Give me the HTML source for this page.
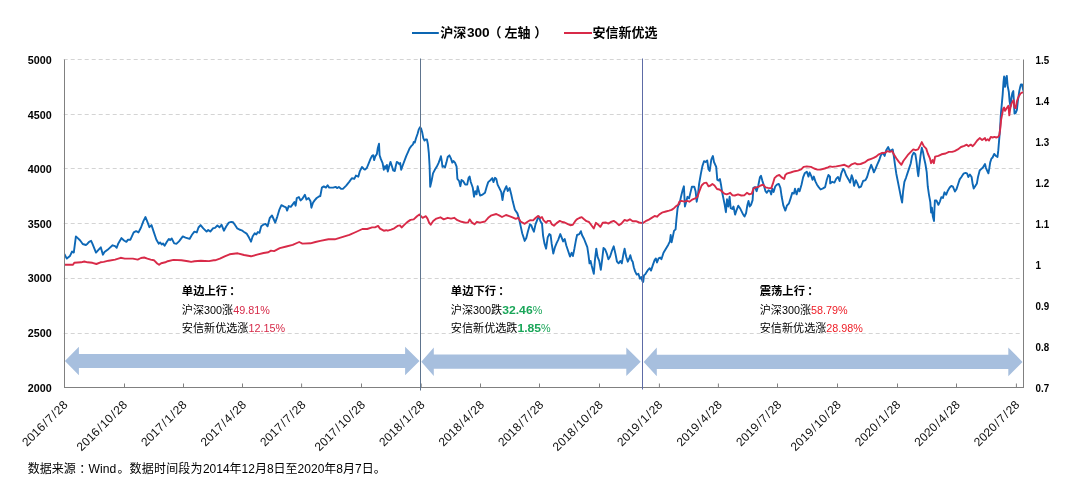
<!DOCTYPE html>
<html lang="zh-CN"><head><meta charset="utf-8"><title>沪深300 与 安信新优选</title>
<style>
html,body{margin:0;padding:0;background:#fff;}
body{width:1076px;height:494px;overflow:hidden;font-family:"Liberation Sans","Noto Sans CJK SC",sans-serif;}
svg{display:block}
.ax{font-family:"Liberation Sans",sans-serif;font-weight:bold;font-size:11.2px;fill:#000}
.xl{font-family:"Liberation Sans",sans-serif;font-size:12px;fill:#111}
.lg{font-family:"Liberation Sans","Noto Sans CJK SC",sans-serif;font-weight:bold;font-size:13px;fill:#000}
.an{font-family:"Liberation Sans","Noto Sans CJK SC",sans-serif;font-size:11.1px;fill:#000}
.n{font-size:10.8px}
.ft{font-family:"Liberation Sans","Noto Sans CJK SC",sans-serif;font-size:12px;fill:#000}
.b{font-weight:bold}
</style></head><body>
<svg width="1076" height="494" viewBox="0 0 1076 494">
<rect width="1076" height="494" fill="#fff"/>
<g stroke="#d4d4d4" stroke-width="1" stroke-dasharray="4 3" fill="none">
<line x1="63.7" y1="59.50" x2="1020.2" y2="59.50"/>
<line x1="63.7" y1="114.50" x2="1020.2" y2="114.50"/>
<line x1="63.7" y1="168.50" x2="1020.2" y2="168.50"/>
<line x1="63.7" y1="223.50" x2="1020.2" y2="223.50"/>
<line x1="63.7" y1="278.50" x2="1020.2" y2="278.50"/>
<line x1="63.7" y1="333.50" x2="1020.2" y2="333.50"/>
</g>
<polygon points="64.9,361.0 78.9,346.7 78.9,354.0 405.1,354.0 405.1,346.7 419.5,361.0 405.1,375.3 405.1,368.0 78.9,368.0 78.9,375.3" fill="#a7bfde"/>
<polygon points="421.3,361.7 433.8,347.4 433.8,354.6 626.3,354.6 626.3,347.4 640.7,361.7 626.3,376.0 626.3,368.8 433.8,368.8 433.8,376.0" fill="#a7bfde"/>
<polygon points="643.7,361.9 656.8,347.5 656.8,354.7 1008.3,354.7 1008.3,347.5 1022.5,361.9 1008.3,376.3 1008.3,369.1 656.8,369.1 656.8,376.3" fill="#a7bfde"/>
<clipPath id="pc"><rect x="64" y="50" width="959.5" height="340"/></clipPath>
<g clip-path="url(#pc)">
<polyline points="64.5,254.3 66.8,258.6 70.0,255.9 72.1,251.5 73.8,252.6 75.9,236.4 77.8,238.1 80.2,240.5 82.7,244.0 85.9,245.0 87.5,243.7 89.1,241.8 91.1,240.8 92.4,243.7 96.0,252.6 98.9,249.4 100.8,247.3 102.9,254.7 104.5,252.1 108.6,248.9 112.6,245.3 115.1,246.2 116.7,247.8 118.3,243.4 121.5,238.1 124.0,240.5 126.4,241.8 128.0,239.7 130.4,239.7 133.7,232.4 136.1,231.1 138.5,232.4 141.0,227.5 143.4,221.1 145.5,217.0 147.4,221.9 149.4,227.2 151.5,225.1 153.9,232.4 156.4,239.7 158.8,243.7 160.1,242.4 161.7,244.5 163.0,243.4 164.6,245.7 166.9,241.8 168.8,238.9 170.1,240.2 171.7,238.5 174.2,243.4 176.6,243.7 179.0,241.3 182.8,236.4 185.5,237.6 189.6,238.9 192.0,234.8 194.4,231.6 196.8,232.4 198.5,227.5 200.6,225.1 203.3,228.3 206.6,231.6 208.2,230.0 210.3,231.6 213.0,228.3 215.0,227.9 217.4,225.5 219.5,227.4 221.5,224.7 223.9,230.7 226.3,226.3 228.8,222.6 231.2,221.9 233.1,222.2 235.2,225.2 237.3,228.4 239.3,229.5 241.7,230.3 244.1,232.0 246.6,233.6 249.0,237.6 251.0,241.7 252.6,236.5 254.7,233.3 256.3,234.4 257.9,232.0 259.5,232.8 261.2,226.3 263.3,224.7 265.5,223.9 267.6,226.3 269.7,218.2 272.0,215.4 273.6,219.0 275.2,222.6 277.3,216.6 279.5,209.3 281.4,205.2 283.8,206.4 285.9,207.3 287.1,210.6 288.7,206.1 290.8,206.9 292.7,204.4 294.4,202.0 295.6,205.7 296.8,198.0 298.9,197.1 300.5,200.4 302.4,198.8 304.9,194.7 306.5,199.6 308.6,198.0 310.5,201.2 311.4,207.7 313.0,202.8 314.6,200.4 316.7,198.0 318.6,196.7 320.3,196.0 321.9,187.6 323.8,186.4 325.9,187.6 327.6,185.3 329.2,187.6 333.2,187.6 335.6,186.9 337.3,188.1 338.9,186.9 341.3,188.9 342.9,188.9 346.2,185.6 349.4,181.6 351.8,178.3 354.3,178.8 355.9,175.6 358.3,176.7 359.9,171.1 362.0,167.0 364.0,169.1 365.0,169.6 366.8,168.0 368.6,163.7 370.5,158.9 372.0,155.8 373.3,155.2 374.1,160.1 375.3,156.4 376.9,154.0 377.8,147.9 379.0,143.7 379.6,155.2 380.8,158.9 382.6,163.1 383.8,169.8 385.0,166.2 385.9,168.6 386.9,164.9 387.8,171.6 389.0,166.8 390.5,161.9 391.7,165.5 393.2,170.4 394.8,171.0 395.6,166.8 396.8,161.9 398.0,162.5 399.3,164.3 400.2,163.1 401.2,169.8 402.7,165.5 404.5,160.7 406.3,155.8 408.1,151.8 409.7,148.2 411.2,146.1 413.0,144.3 413.8,141.9 414.8,142.5 416.0,138.2 417.5,134.0 418.7,129.7 419.9,127.3 421.1,128.5 422.3,132.8 423.3,138.2 424.5,140.6 425.7,139.4 426.9,139.4 427.9,144.3 428.8,152.8 429.6,166.2 430.2,186.8 431.6,180.7 433.0,173.4 434.8,169.8 436.7,166.8 438.5,163.1 440.1,158.9 440.9,156.2 441.8,161.3 442.5,166.8 443.7,166.2 445.0,167.4 446.4,162.6 447.7,157.0 449.4,155.3 451.0,158.6 452.3,162.6 453.4,161.0 455.0,162.6 456.6,166.7 457.4,178.9 459.1,181.0 460.4,186.2 461.5,180.0 463.1,181.0 465.2,184.6 467.2,184.6 468.5,178.1 469.6,176.5 470.7,181.7 472.8,187.8 474.0,196.7 475.3,191.1 476.6,194.3 477.7,186.2 478.8,191.1 480.1,195.6 482.6,194.6 485.0,192.7 486.6,187.0 488.2,182.1 490.6,180.0 492.3,178.1 493.4,182.1 495.0,177.8 496.3,178.9 497.6,184.6 499.6,188.6 501.2,191.9 502.5,200.0 503.6,192.7 505.2,188.6 506.4,186.2 507.7,191.1 509.6,188.1 511.2,194.3 512.8,201.6 514.9,209.7 517.4,213.4 519.0,218.6 520.6,225.9 522.2,233.2 524.7,240.9 526.3,238.0 527.9,231.5 530.0,224.3 531.2,225.2 532.8,229.3 533.9,231.7 535.5,224.4 537.6,218.8 538.8,216.3 540.4,221.2 542.0,223.6 543.1,235.8 544.4,243.1 546.1,248.7 547.7,237.4 549.3,234.1 550.6,235.0 551.7,243.9 553.3,253.6 555.0,247.1 556.6,243.1 558.2,239.8 560.3,234.1 561.9,238.2 563.1,241.4 564.7,239.0 566.3,245.5 567.9,250.3 570.0,256.5 571.6,252.8 572.9,256.0 574.4,248.7 576.0,239.8 577.1,235.0 579.3,234.1 580.9,231.2 582.0,235.0 584.1,239.0 585.7,243.1 587.3,247.1 588.5,255.2 589.5,263.3 590.6,260.9 591.7,265.7 593.8,273.8 595.0,259.3 596.3,248.7 597.6,256.8 599.2,260.9 600.8,269.8 602.1,260.1 603.5,247.9 605.2,249.5 606.8,253.6 608.4,259.3 610.0,256.8 612.1,250.3 613.7,246.3 615.4,253.6 617.0,261.7 618.6,263.3 620.5,260.9 621.8,263.3 623.5,253.6 624.6,248.7 626.2,256.8 627.8,261.7 629.5,257.6 630.3,255.2 631.6,260.1 632.7,261.7 633.8,267.3 635.1,271.4 636.7,274.6 638.4,273.8 640.0,278.7 641.3,277.1 642.4,281.1 643.2,281.9 644.0,275.4 645.6,273.8 648.1,269.8 649.7,268.2 651.0,270.6 652.9,264.9 654.6,260.1 655.9,258.4 657.0,262.5 658.6,258.4 660.2,257.6 661.4,259.3 663.5,252.8 665.9,248.7 668.3,244.7 669.9,241.4 670.7,235.0 671.6,242.2 672.7,237.4 674.0,230.9 675.6,229.3 676.4,219.6 677.6,208.2 678.5,205.0 679.4,204.1 681.0,196.8 682.6,190.3 683.9,186.3 684.9,206.5 686.2,201.7 687.5,196.8 689.1,198.4 690.2,193.6 691.9,186.8 694.3,186.8 695.6,191.2 696.7,201.7 697.9,195.2 699.1,183.9 700.8,174.1 702.4,166.1 704.0,161.2 705.6,162.0 707.2,160.4 708.5,169.3 709.7,170.9 711.3,159.6 712.9,156.0 714.0,162.0 716.2,166.9 717.3,179.8 718.6,180.6 719.9,179.0 721.0,184.7 722.1,192.0 723.4,198.4 724.7,204.9 725.9,212.2 727.0,199.3 728.3,206.5 729.6,196.8 730.7,208.2 732.3,209.0 733.5,206.5 735.1,214.6 736.7,209.8 738.3,205.7 740.0,208.2 741.6,211.4 743.2,214.6 744.5,216.6 746.1,213.0 747.4,204.9 748.5,200.9 749.7,206.5 751.0,204.9 752.6,200.1 753.4,187.9 755.0,187.1 756.6,191.2 758.3,185.5 759.9,177.4 761.0,175.8 762.3,180.6 763.9,185.5 765.5,191.2 766.8,192.8 768.5,190.3 770.1,191.2 771.2,194.4 772.3,188.7 773.6,192.0 775.3,186.3 776.9,184.7 778.8,183.9 780.4,187.9 781.7,196.8 783.4,205.7 785.3,210.6 786.9,205.7 789.0,203.3 790.6,198.4 792.3,192.8 793.9,193.6 795.0,188.7 796.6,194.4 798.3,188.7 799.6,191.2 801.5,184.7 803.1,177.4 804.7,173.3 806.8,171.7 808.5,176.6 809.6,172.5 811.2,175.8 812.5,179.8 813.8,176.6 815.4,181.4 817.0,184.7 818.7,187.1 820.6,189.5 823.0,188.4 825.1,187.1 826.8,179.8 828.4,175.0 830.0,176.6 830.2,183.4 832.3,181.8 834.4,182.6 836.3,178.6 838.0,177.0 839.6,181.0 841.2,173.7 843.1,168.9 844.4,170.5 846.1,175.3 848.5,179.4 850.1,182.6 851.7,175.3 852.9,178.6 854.1,185.9 855.8,180.2 857.4,183.4 859.0,187.5 861.0,186.7 863.1,181.0 865.5,180.2 867.1,177.0 869.0,170.5 871.2,164.8 872.8,168.9 873.9,172.4 875.5,168.9 877.1,164.8 879.3,160.0 880.9,155.1 883.0,152.7 884.6,155.9 886.2,150.2 888.2,147.0 889.8,151.1 891.4,150.2 892.7,149.4 893.8,155.9 895.0,164.8 896.3,173.7 897.9,181.8 899.5,189.9 901.1,198.0 902.1,202.6 903.1,191.5 904.4,181.8 906.0,177.8 907.6,172.9 909.2,168.1 910.8,163.2 912.1,155.9 913.7,152.7 915.4,154.3 916.5,161.6 917.6,171.3 918.3,176.2 919.3,166.4 920.5,155.9 921.8,147.8 923.0,151.9 924.1,158.3 925.4,164.0 926.7,172.1 927.8,186.7 929.0,194.8 930.3,202.1 931.1,212.5 931.9,207.7 932.8,216.2 934.0,221.0 934.3,212.5 934.9,200.4 936.4,200.4 938.4,204.8 940.0,201.3 941.3,197.2 942.9,198.0 944.5,192.3 946.1,194.8 947.8,190.7 949.7,187.5 951.3,185.9 952.9,186.7 954.9,191.5 956.5,189.1 958.1,184.3 959.7,179.4 961.4,177.0 963.5,173.7 965.6,172.9 967.2,173.7 968.3,177.0 969.9,174.5 971.6,177.0 972.7,184.3 973.7,188.6 975.3,185.9 976.9,183.4 978.0,177.0 979.7,170.5 981.3,168.9 982.9,167.6 985.0,164.0 985.9,167.8 987.8,172.1 988.4,173.3 989.3,168.4 990.2,162.4 991.4,158.7 992.6,157.5 994.2,153.9 995.6,155.7 997.5,156.9 998.3,150.2 999.0,141.7 999.9,130.8 1000.5,121.1 1000.7,116.0 1001.7,105.1 1002.7,94.1 1003.5,82.0 1004.1,76.5 1005.1,86.9 1006.0,78.4 1006.8,75.9 1007.6,85.6 1008.8,91.7 1009.6,101.4 1010.5,106.3 1011.4,97.8 1012.4,92.9 1013.3,91.1 1013.9,101.4 1014.5,113.6 1015.7,113.0 1016.9,109.9 1017.8,101.4 1018.5,96.6 1019.3,91.1 1020.2,86.9 1020.9,84.4 1022.1,84.4 1023.0,89.3 1023.5,91.1" fill="none" stroke="#0e68b6" stroke-width="1.9" stroke-linejoin="round" stroke-linecap="round"/>
<polyline points="64.5,264.8 73.0,264.8 74.3,262.8 81.1,262.3 84.3,261.5 87.5,262.3 92.4,262.8 96.4,264.0 100.5,262.3 103.7,261.9 108.6,260.7 115.1,259.6 120.7,257.8 124.8,258.6 132.9,258.6 137.7,259.6 141.0,258.0 144.2,257.5 147.4,258.6 150.7,259.6 153.9,260.2 157.2,263.5 159.1,264.8 161.2,263.2 165.3,262.3 167.7,261.2 173.4,259.9 181.5,260.2 187.9,261.2 191.2,261.9 194.4,261.2 200.9,260.7 209.0,261.1 213.8,260.2 215.0,260.3 219.9,258.7 224.7,256.3 229.6,254.3 237.7,253.3 244.1,255.0 251.0,256.3 257.1,254.6 263.6,253.0 268.4,252.2 270.9,250.6 274.1,251.1 279.8,248.2 286.3,246.5 292.7,244.9 299.2,242.0 302.4,243.6 310.5,243.3 315.4,242.0 320.3,240.9 328.4,239.3 334.8,239.3 342.9,236.8 349.4,234.9 355.9,232.0 362.4,229.0 367.2,229.0 372.1,227.4 375.0,227.4 378.1,225.9 380.0,228.6 383.8,230.7 386.2,230.2 387.8,230.7 391.1,229.6 394.3,228.3 397.5,225.9 400.0,225.4 401.6,227.5 404.0,225.1 407.2,222.1 410.5,219.9 413.7,219.4 417.0,216.2 419.4,214.5 421.0,216.2 422.6,217.8 425.9,216.2 427.5,218.6 429.1,222.6 430.7,224.7 433.2,221.0 436.4,218.6 440.4,217.3 443.7,219.4 447.7,217.8 451.0,218.6 454.2,217.8 457.4,220.2 461.5,221.8 465.5,222.6 468.0,222.6 469.6,219.4 472.0,222.6 474.5,224.3 476.9,221.8 480.1,222.6 485.0,221.5 488.2,217.8 491.5,215.3 496.3,214.0 499.6,215.7 502.0,217.0 506.0,215.0 509.3,216.2 512.5,217.3 515.7,218.9 518.2,217.8 520.6,221.5 524.7,223.8 527.9,221.5 530.0,220.2 533.1,220.4 535.5,218.0 538.0,216.0 540.4,218.0 542.0,217.1 543.6,220.4 546.1,222.8 547.7,220.9 550.1,220.9 551.7,224.1 554.1,225.7 556.6,223.1 559.8,220.9 562.2,222.0 564.7,222.5 567.9,224.1 570.3,225.2 572.8,224.8 575.2,221.2 576.8,219.3 579.3,218.0 581.7,217.1 584.1,219.3 586.5,221.2 589.0,222.0 591.4,225.2 593.8,228.5 595.9,222.8 597.9,224.4 600.3,226.9 602.7,222.8 606.0,222.5 608.4,223.6 610.8,222.0 613.7,220.9 616.5,222.8 618.9,225.2 621.4,223.6 624.6,219.9 627.0,220.9 629.9,219.3 632.7,221.2 635.9,221.2 639.2,222.5 642.7,223.1 645.6,221.2 648.9,219.6 652.1,217.6 654.6,216.0 657.0,216.7 659.4,214.4 662.7,212.3 665.9,211.5 669.1,210.7 671.6,209.9 674.0,208.2 676.4,205.8 678.0,205.0 679.4,201.7 681.3,200.9 684.6,201.7 687.0,200.9 689.4,201.7 692.7,199.3 695.9,198.1 697.5,196.8 699.1,192.0 701.6,185.5 704.0,183.1 706.4,182.6 708.5,186.3 710.5,185.5 712.4,183.9 714.5,185.5 717.0,189.0 719.4,189.5 721.8,191.2 724.3,193.6 726.7,194.4 728.6,193.6 730.2,192.8 732.3,195.2 734.8,195.5 738.0,194.4 741.3,195.5 744.5,195.2 746.9,192.8 749.4,194.4 751.8,193.6 753.4,188.7 755.8,187.4 758.3,186.8 760.7,185.5 763.1,184.7 765.5,187.4 768.0,187.9 771.2,188.4 772.8,183.9 774.5,178.2 776.9,175.8 779.3,175.0 781.7,177.4 784.2,179.0 785.3,175.0 787.4,173.3 790.6,172.5 794.7,171.2 797.9,170.6 801.2,169.3 803.6,166.9 806.8,166.4 810.9,166.9 814.1,168.5 817.4,169.6 820.6,169.6 824.7,168.5 827.9,167.3 830.0,166.4 832.3,166.9 836.3,166.4 840.4,165.6 844.4,164.8 848.5,166.9 851.7,164.3 855.0,163.2 857.4,164.3 860.6,164.0 864.7,162.4 867.9,160.0 871.2,158.8 873.6,157.9 876.0,156.7 878.4,154.6 881.7,153.0 884.9,152.7 887.3,151.1 889.8,151.9 892.2,151.1 893.8,154.3 896.3,158.3 898.7,161.6 901.4,164.8 903.5,160.8 906.0,157.5 908.4,154.3 910.8,151.9 913.3,149.4 915.7,150.2 918.1,149.4 920.2,145.4 921.8,142.1 923.8,146.2 926.2,148.6 927.8,153.5 929.9,158.3 931.1,163.2 932.7,160.0 933.8,163.2 935.1,156.7 938.4,155.9 941.6,154.3 945.6,153.5 948.9,151.9 952.1,151.9 954.6,151.1 957.8,149.4 961.0,147.0 964.3,145.9 966.7,144.6 968.3,146.2 970.7,144.6 972.7,146.2 974.8,143.8 977.2,140.5 979.7,138.1 982.1,140.0 985.0,138.1 985.9,140.5 987.8,139.3 989.0,140.5 990.8,136.9 992.6,137.5 994.4,136.9 996.3,137.5 998.1,136.9 999.3,135.0 1000.3,128.4 1000.9,122.3 1001.1,119.7 1002.3,113.6 1003.2,108.7 1004.1,107.5 1005.1,110.9 1006.3,108.7 1007.6,106.9 1008.4,105.7 1009.3,115.4 1010.2,108.7 1011.4,103.9 1012.7,101.4 1013.6,100.2 1014.5,107.5 1015.7,108.1 1016.9,101.4 1018.1,97.8 1019.3,95.4 1020.5,93.5 1021.8,92.7 1023.3,92.3" fill="none" stroke="#d82a48" stroke-width="1.9" stroke-linejoin="round" stroke-linecap="round"/>
</g>
<g stroke="#808080" stroke-width="1" fill="none">
<line x1="64.5" y1="59.5" x2="64.5" y2="388.0"/>
<line x1="1023.5" y1="59.5" x2="1023.5" y2="388.0"/>
<line x1="64.0" y1="387.5" x2="1024.0" y2="387.5"/>
<line x1="64.50" y1="383.5" x2="64.50" y2="387.5"/>
<line x1="124.50" y1="383.5" x2="124.50" y2="387.5"/>
<line x1="183.50" y1="383.5" x2="183.50" y2="387.5"/>
<line x1="242.50" y1="383.5" x2="242.50" y2="387.5"/>
<line x1="301.60" y1="383.5" x2="301.60" y2="387.5"/>
<line x1="361.50" y1="383.5" x2="361.50" y2="387.5"/>
<line x1="421.20" y1="383.5" x2="421.20" y2="387.5"/>
<line x1="480.50" y1="383.5" x2="480.50" y2="387.5"/>
<line x1="539.50" y1="383.5" x2="539.50" y2="387.5"/>
<line x1="599.50" y1="383.5" x2="599.50" y2="387.5"/>
<line x1="659.40" y1="383.5" x2="659.40" y2="387.5"/>
<line x1="718.40" y1="383.5" x2="718.40" y2="387.5"/>
<line x1="777.50" y1="383.5" x2="777.50" y2="387.5"/>
<line x1="837.50" y1="383.5" x2="837.50" y2="387.5"/>
<line x1="897.50" y1="383.5" x2="897.50" y2="387.5"/>
<line x1="956.50" y1="383.5" x2="956.50" y2="387.5"/>
<line x1="1016.40" y1="383.5" x2="1016.40" y2="387.5"/>
</g>
<line x1="420.5" y1="58.5" x2="420.5" y2="390.5" stroke="#5e748e" stroke-width="1"/>
<line x1="642.5" y1="58.5" x2="642.5" y2="389.5" stroke="#5d6ba6" stroke-width="1"/>
<text class="ax" x="51.7" y="64" text-anchor="end" textLength="23.9" lengthAdjust="spacingAndGlyphs">5000</text>
<text class="ax" x="51.7" y="118.5" text-anchor="end" textLength="23.9" lengthAdjust="spacingAndGlyphs">4500</text>
<text class="ax" x="51.7" y="173" text-anchor="end" textLength="23.9" lengthAdjust="spacingAndGlyphs">4000</text>
<text class="ax" x="51.7" y="228" text-anchor="end" textLength="23.9" lengthAdjust="spacingAndGlyphs">3500</text>
<text class="ax" x="51.7" y="282" text-anchor="end" textLength="23.9" lengthAdjust="spacingAndGlyphs">3000</text>
<text class="ax" x="51.7" y="337" text-anchor="end" textLength="23.9" lengthAdjust="spacingAndGlyphs">2500</text>
<text class="ax" x="51.7" y="392" text-anchor="end" textLength="23.9" lengthAdjust="spacingAndGlyphs">2000</text>
<text class="ax" x="1035.6" y="63.70" textLength="13.6" lengthAdjust="spacingAndGlyphs">1.5</text>
<text class="ax" x="1035.6" y="104.70" textLength="13.6" lengthAdjust="spacingAndGlyphs">1.4</text>
<text class="ax" x="1035.6" y="145.70" textLength="13.6" lengthAdjust="spacingAndGlyphs">1.3</text>
<text class="ax" x="1035.6" y="186.70" textLength="13.6" lengthAdjust="spacingAndGlyphs">1.2</text>
<text class="ax" x="1035.6" y="227.70" textLength="13.6" lengthAdjust="spacingAndGlyphs">1.1</text>
<text class="ax" x="1035.6" y="268.70" textLength="5.5" lengthAdjust="spacingAndGlyphs">1</text>
<text class="ax" x="1035.6" y="309.70" textLength="13.6" lengthAdjust="spacingAndGlyphs">0.9</text>
<text class="ax" x="1035.6" y="350.70" textLength="13.6" lengthAdjust="spacingAndGlyphs">0.8</text>
<text class="ax" x="1035.6" y="391.70" textLength="13.6" lengthAdjust="spacingAndGlyphs">0.7</text>
<text class="xl" transform="translate(68.50,405.5) rotate(-45)" text-anchor="end" letter-spacing="0.15">2016<tspan dx="1">/</tspan><tspan dx="1">7</tspan><tspan dx="1">/</tspan><tspan dx="1">28</tspan></text>
<text class="xl" transform="translate(127.99,405.5) rotate(-45)" text-anchor="end" letter-spacing="0.15">2016<tspan dx="1">/</tspan><tspan dx="1">10</tspan><tspan dx="1">/</tspan><tspan dx="1">28</tspan></text>
<text class="xl" transform="translate(187.49,405.5) rotate(-45)" text-anchor="end" letter-spacing="0.15">2017<tspan dx="1">/</tspan><tspan dx="1">1</tspan><tspan dx="1">/</tspan><tspan dx="1">28</tspan></text>
<text class="xl" transform="translate(246.98,405.5) rotate(-45)" text-anchor="end" letter-spacing="0.15">2017<tspan dx="1">/</tspan><tspan dx="1">4</tspan><tspan dx="1">/</tspan><tspan dx="1">28</tspan></text>
<text class="xl" transform="translate(306.48,405.5) rotate(-45)" text-anchor="end" letter-spacing="0.15">2017<tspan dx="1">/</tspan><tspan dx="1">7</tspan><tspan dx="1">/</tspan><tspan dx="1">28</tspan></text>
<text class="xl" transform="translate(365.97,405.5) rotate(-45)" text-anchor="end" letter-spacing="0.15">2017<tspan dx="1">/</tspan><tspan dx="1">10</tspan><tspan dx="1">/</tspan><tspan dx="1">28</tspan></text>
<text class="xl" transform="translate(425.46,405.5) rotate(-45)" text-anchor="end" letter-spacing="0.15">2018<tspan dx="1">/</tspan><tspan dx="1">1</tspan><tspan dx="1">/</tspan><tspan dx="1">28</tspan></text>
<text class="xl" transform="translate(484.96,405.5) rotate(-45)" text-anchor="end" letter-spacing="0.15">2018<tspan dx="1">/</tspan><tspan dx="1">4</tspan><tspan dx="1">/</tspan><tspan dx="1">28</tspan></text>
<text class="xl" transform="translate(544.45,405.5) rotate(-45)" text-anchor="end" letter-spacing="0.15">2018<tspan dx="1">/</tspan><tspan dx="1">7</tspan><tspan dx="1">/</tspan><tspan dx="1">28</tspan></text>
<text class="xl" transform="translate(603.94,405.5) rotate(-45)" text-anchor="end" letter-spacing="0.15">2018<tspan dx="1">/</tspan><tspan dx="1">10</tspan><tspan dx="1">/</tspan><tspan dx="1">28</tspan></text>
<text class="xl" transform="translate(663.44,405.5) rotate(-45)" text-anchor="end" letter-spacing="0.15">2019<tspan dx="1">/</tspan><tspan dx="1">1</tspan><tspan dx="1">/</tspan><tspan dx="1">28</tspan></text>
<text class="xl" transform="translate(722.93,405.5) rotate(-45)" text-anchor="end" letter-spacing="0.15">2019<tspan dx="1">/</tspan><tspan dx="1">4</tspan><tspan dx="1">/</tspan><tspan dx="1">28</tspan></text>
<text class="xl" transform="translate(782.42,405.5) rotate(-45)" text-anchor="end" letter-spacing="0.15">2019<tspan dx="1">/</tspan><tspan dx="1">7</tspan><tspan dx="1">/</tspan><tspan dx="1">28</tspan></text>
<text class="xl" transform="translate(841.92,405.5) rotate(-45)" text-anchor="end" letter-spacing="0.15">2019<tspan dx="1">/</tspan><tspan dx="1">10</tspan><tspan dx="1">/</tspan><tspan dx="1">28</tspan></text>
<text class="xl" transform="translate(901.41,405.5) rotate(-45)" text-anchor="end" letter-spacing="0.15">2020<tspan dx="1">/</tspan><tspan dx="1">1</tspan><tspan dx="1">/</tspan><tspan dx="1">28</tspan></text>
<text class="xl" transform="translate(960.91,405.5) rotate(-45)" text-anchor="end" letter-spacing="0.15">2020<tspan dx="1">/</tspan><tspan dx="1">4</tspan><tspan dx="1">/</tspan><tspan dx="1">28</tspan></text>
<text class="xl" transform="translate(1020.40,405.5) rotate(-45)" text-anchor="end" letter-spacing="0.15">2020<tspan dx="1">/</tspan><tspan dx="1">7</tspan><tspan dx="1">/</tspan><tspan dx="1">28</tspan></text>
<line x1="412" y1="33" x2="438.8" y2="33" stroke="#0c66b2" stroke-width="2"/>
<text class="lg" y="36.9"><tspan x="440.3">沪深</tspan><tspan x="466.9" textLength="22.8" lengthAdjust="spacingAndGlyphs">300</tspan><tspan x="488.4">（</tspan><tspan x="504.6">左轴</tspan><tspan x="534.2">）</tspan></text>
<line x1="564" y1="33" x2="592" y2="33" stroke="#d82a48" stroke-width="2"/>
<text class="lg" x="592.6" y="36.9">安信新优选</text>
<text class="an b" x="181.85" y="294.7" style="font-size:11.3px">单边上行<tspan dx="2.2">：</tspan></text>
<text class="an" x="181.85" y="313.7">沪深<tspan class="n">300</tspan>涨<tspan fill="#d62a48" class="n">49.81%</tspan></text>
<text class="an" x="181.85" y="331.6">安信新优选涨<tspan fill="#d62a48" class="n">12.15%</tspan></text>
<text class="an b" x="450.84999999999997" y="294.7" style="font-size:11.3px">单边下行<tspan dx="2.2">：</tspan></text>
<text class="an" x="450.84999999999997" y="313.7">沪深<tspan class="n">300</tspan>跌<tspan fill="#1aa659" class="n b" textLength="30.5" lengthAdjust="spacingAndGlyphs">32.46</tspan><tspan fill="#1aa659" class="n">%</tspan></text>
<text class="an" x="450.84999999999997" y="331.6">安信新优选跌<tspan fill="#1aa659" class="n b" textLength="23.6" lengthAdjust="spacingAndGlyphs">1.85</tspan><tspan fill="#1aa659" class="n">%</tspan></text>
<text class="an b" x="759.75" y="294.7" style="font-size:11.3px">震荡上行<tspan dx="2.2">：</tspan></text>
<text class="an" x="759.75" y="313.7">沪深<tspan class="n">300</tspan>涨<tspan fill="#ee1c25" class="n">58.79%</tspan></text>
<text class="an" x="759.75" y="331.6">安信新优选涨<tspan fill="#ee1c25" class="n">28.98%</tspan></text>
<text class="ft" y="472.7"><tspan x="27.8">数据来源</tspan><tspan x="79.2">：</tspan><tspan x="88.6" textLength="27.6" lengthAdjust="spacingAndGlyphs">Wind</tspan><tspan x="117.5">。</tspan><tspan x="129.6" letter-spacing="0.18">数据时间段为</tspan><tspan x="202.9">2014年12月8日至2020年8月7日。</tspan></text>
</svg></body></html>
